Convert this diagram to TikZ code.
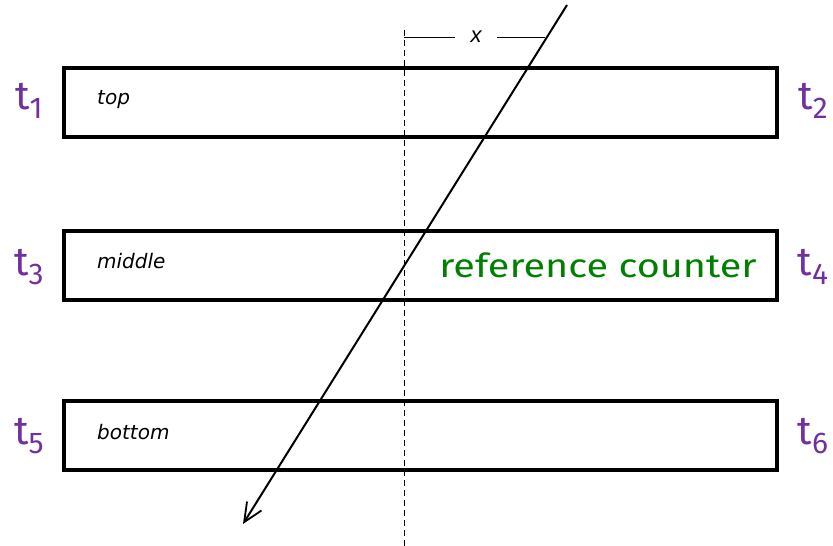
\documentclass[tikz,border=0pt]{standalone}
\usepackage{fontspec}
\setmainfont{Liberation Sans}
\newfontfamily\obl{DejaVu Sans}
\newfontfamily\comic{Fira Sans}
\usetikzlibrary{arrows.meta}
\definecolor{tpurple}{RGB}{112,48,160}
\definecolor{rgreen}{RGB}{0,128,0}
\newcommand{\tsub}[1]{t\raisebox{-0.45ex}{\fontsize{30}{32}\selectfont #1}}
\begin{document}
\begin{tikzpicture}[x=1pt,y=-1pt,
  bar/.style={draw=black,line width=4pt,fill=white},
  lbl/.style={font=\obl\itshape\fontsize{20}{22}\selectfont,anchor=west,inner sep=0pt},
  tlab/.style={text=tpurple,font=\comic\fontsize{40}{42}\selectfont,inner sep=0pt}]
\useasboundingbox (0,0) rectangle (833,546);
\draw[bar] (64,68) rectangle (777,137);
\draw[bar] (64,231) rectangle (777,300);
\draw[bar] (64,401) rectangle (777,470);
\node[lbl] (top) at (97,100) {top};
\node[lbl] (mid) at (97,261) {middle};
\node[lbl] (bot) at (97,432) {bottom};
\node[text=rgreen,font=\comic\fontsize{33}{35}\selectfont,inner sep=0pt] (ref) at (598,265) {\scalebox{1.2}[1]{reference counter}};
\node[tlab] (t1) at (29,101) {\tsub{1}};
\node[tlab] (t2) at (813,101) {\tsub{2}};
\node[tlab] (t3) at (29,267) {\tsub{3}};
\node[tlab] (t4) at (813,267) {\tsub{4}};
\node[tlab] (t5) at (29,436) {\tsub{5}};
\node[tlab] (t6) at (813,436) {\tsub{6}};
\coordinate (dtop) at (404,30);
\coordinate (dbot) at (404,546);
\draw[line width=1pt,dash pattern=on 6pt off 4pt] (dtop) -- (dbot);
\node[font=\itshape\fontsize{22}{24}\selectfont,inner sep=0pt] (xl) at (476,37) {x};
\coordinate (xa) at (404,37);
\coordinate (xb) at (545,37);
\draw[line width=0.9pt] (xa) -- (455,37);
\draw[line width=0.9pt] (497,37) -- (xb);
\coordinate (as) at (567,5);
\coordinate (ae) at (243,524);
\draw[line width=2pt,-{Straight Barb[length=19pt,width=17pt,line width=1.8pt]}] (as) -- (ae);
\end{tikzpicture}
\end{document}
